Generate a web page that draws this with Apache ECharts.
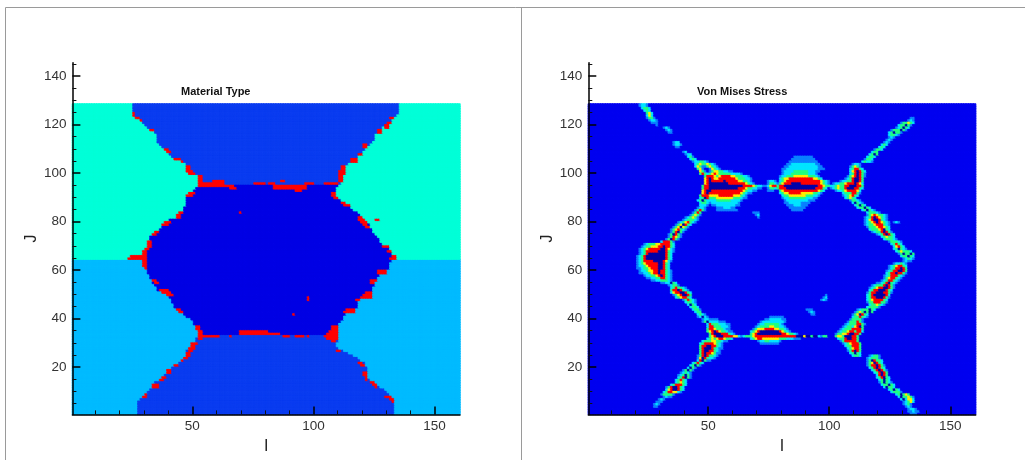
<!DOCTYPE html>
<html><head><meta charset="utf-8">
<style>html,body{margin:0;padding:0;background:#fff}#c{width:1025px;height:460px;filter:blur(0.7px)}</style>
<script src="https://cdn.jsdelivr.net/npm/echarts@6/dist/echarts.min.js"></script>
</head><body><div id="c"></div>
<script>
const iCount = 160, jCount = 128, jAxisTop = 145;
const xMajorTicks = [50, 100, 150];
const xMinorTicks = [10, 20, 30, 40, 60, 70, 80, 90, 110, 120, 130, 140];
const yMajorTicks = [20, 40, 60, 80, 100, 120, 140];
const yMinorTicks = [5, 10, 15, 25, 30, 35, 45, 50, 55, 65, 70, 75, 85, 90, 95, 105, 110, 115, 125, 130, 135, 145];

// Material map: first and last I of the central body for J = 1..128
const bodyFirstI = [
 28,28,28,28,28,28,29,31,31,32, 33,34,35,35,37,38,39,40,41,42,
 43,45,46,47,48,48,48,49,50,51, 52,52,53,53,53,52,52,51,51,50,
 48,47,45,44,43,43,42,42,41,40, 38,36,36,35,34,34,33,33,32,32,
 31,30,30,30,30,30,30,30,31,32, 32,32,33,33,34,35,37,38,39,40,
 41,44,44,45,47,47,48,48,48,48, 49,50,51,52,53,53,53,53,53,52,
 50,49,48,48,46,43,42,41,41,39, 38,37,36,36,36,36,35,34,32,31,
 30,29,28,27,26,26,26,26];
const bodyLastI = [
 133,133,133,133,133,133,133,132,131,130, 129,127,125,124,123,122,122,122,122,122,
 121,121,119,118,116,114,112,110,109,109, 110,110,110,110,110,110,110,110,111,112,
 112,113,115,117,118,118,118,119,122,124, 124,124,124,125,125,126,126,127,130,130,
 131,131,131,132,134,134,132,132,131,130, 128,127,127,126,125,124,124,123,123,122,
 121,120,119,118,116,115,115,113,111,110, 109,109,109,109,110,111,112,112,112,112,
 113,113,113,114,117,118,118,120,120,121, 122,123,124,125,125,125,127,128,128,131,
 132,132,133,134,135,135,135,135];
const sideSplitJ = 64, lowerBodyTopJ = 33, upperBodyBottomJ = 96;
// Interface cells [J, firstI, lastI]
const interfaceRuns = [
 [125,26,26],[124,26,26],[123,27,28],[122,29,29],[118,33,34],[110,39,40],[109,40,41],[106,43,45],[105,46,46],
 [103,48,49],[102,48,49],[101,48,50],[100,49,51],[99,53,54],[98,53,54],[97,53,54],[96,53,63],[95,53,67],[97,59,63],[94,66,68],
 [92,49,51],[91,48,50],[84,45,46],[83,44,45],[82,44,45],[80,39,41],[79,38,40],[76,35,36],[75,34,35],
 [72,32,33],[71,32,33],[70,32,33],[69,31,32],[68,30,31],[67,30,31],[66,25,31],[65,24,31],[64,30,31],[63,30,31],[62,30,31],[61,31,31],
 [56,34,35],[55,35,36],[52,37,40],[51,38,41],[50,40,42],[44,44,45],[43,45,46],
 [37,52,53],[36,52,53],[35,53,54],[34,53,54],[33,53,61],[32,53,54],[30,50,52],[29,50,51],[28,49,51],[27,49,50],[26,48,49],[25,48,49],[24,47,48],[23,46,46],
 [21,43,44],[19,40,41],[18,40,41],[16,38,39],[15,37,38],[13,34,36],[12,34,36],[9,31,31],[8,30,31],
 [35,70,81],[34,70,86],[33,66,66],[33,88,90],[33,93,96],[33,98,98],[49,98,98],[48,98,98],[42,92,92],
 [37,108,110],[36,108,110],[35,107,110],[34,106,110],[33,105,110],[32,106,110],[31,108,109],
 [27,110,111],[22,119,120],[21,120,121],[18,121,122],[17,121,122],[16,122,122],[15,122,122],[14,124,125],[13,125,126],[12,126,126],
 [8,130,132],[7,132,133],[6,133,133],[44,114,117],[43,113,117],[48,118,119],[51,122,124],[50,121,124],[49,120,124],
 [56,124,126],[55,124,125],[60,127,130],[59,127,130],[66,133,134],[65,132,134],[68,131,132],[70,129,131],
 [81,126,127],[84,70,70],[87,113,115],[88,112,113],[92,108,109],[91,108,109],[90,109,110],
 [82,119,120],[81,119,121],[80,120,122],[79,121,122],[78,122,123],
 [97,111,112],[98,111,112],[99,111,112],[100,111,113],[101,111,113],[102,112,113],[103,112,113],[96,109,110],[96,105,108],
 [106,116,118],[105,116,118],[108,119,120],[111,121,122],[112,121,122],[118,127,128],[117,127,128],[120,130,131],[119,130,131],[121,131,132],[123,132,133],
 [96,76,80],[96,82,84],[95,84,97],[94,84,97],[97,87,88],[93,93,95],[96,97,100]
];

// Stress levels by row [J, firstI, "levels"]
const stressUpperLeftArm = [
 [128,22,"1221"],[127,23,"2332"],[126,24,"232"],[125,25,"342"],[124,25,"242"],[123,25,"1331"],[122,26,"1221"],[121,27,"111"],[120,29,"1"],
 [119,32,"121"],[118,33,"121"],[117,34,"11"],[113,36,"122"],[112,36,"1221"],[111,37,"11"],[109,40,"12"],[108,41,"122"],[107,42,"231"],[106,43,"232"]
];
const stressUpperLeftNode = [
 [105,44,"1223321"],[104,45,"234334321"],[103,45,"2431134321"],[102,46,"3410014321"],[101,47,"43101344332211"],
 [100,47,"353234543333322221"],[99,49,"3555434555544333221"],[98,49,"45654455555554333221"],[97,49,"45655555655555443321"],
 [96,49,"456666666655555554321"],[95,48,"355666666666666665555432211"],[94,48,"3556666666666665554332211"],
 [93,48,"45665555555555555432211"],[92,48,"456555555555555543211"],[91,47,"35554444555555444321"],[90,47,"23653334444444333211"],
 [89,46,"2363222233333322221"],[88,47,"23321222222222221"],[87,47,"22210112222222211"],[86,46,"1221000011122211"],[85,54,"111111111"],
 [84,69,"111"],[83,70,"12"],[82,71,"1"]
];
const stressLeftArmMiddle = [
 [85,45,"13531"],[84,44,"1353"],[83,43,"13431"],[82,41,"123431"],[81,40,"1233321"],[80,38,"12345321"],[79,37,"1346532"],[78,36,"1346431"],
 [77,35,"1345321"],[76,35,"135631"],[75,34,"136531"],[74,34,"135431"],[73,33,"136531"],[72,31,"255531"],[71,24,"1233344555532"]
];
const stressLeftTriangle = [
 [70,23,"12334445565532"],[69,22,"123455555665421"],[68,22,"123555556665321"],[67,22,"12356666666532"],[66,21,"123566666666532"],
 [65,21,"123566666666532"],[64,21,"123555566665421"],[63,21,"12345555566532"],[62,21,"12234555566532"],[61,21,"11233455566532"],
 [60,22,"12234455655321"],[59,22,"11223455655321"],[58,24,"122334565321"],[57,25,"11223355321"],[56,27,"112233321"],[55,31,"1122632"],[54,34,"12331"]
];
const stressLeftLower = [
 [53,35,"2353321"],[52,35,"35565321"],[51,35,"245566532"],[50,36,"13456653"],[49,37,"2345532"],[48,40,"135321"],[47,41,"23321"],[46,42,"2632"],
 [45,43,"2332"],[44,44,"2331"],[43,45,"233"],[42,46,"2321"],[41,46,"12621"],[40,48,"1221111"],[39,48,"1362222111"]
];
const stressLowerLeftNode = [
 [38,50,"2533322211"],[37,50,"2553332221"],[36,50,"3554333211"],[35,50,"34565433211"],[34,51,"35666555321"],[33,51,"3456665555442"],
 [32,50,"23434554332"],[31,48,"23334433211"],[30,47,"2355554321"],[29,47,"3556655321"],[28,47,"3566653211"],[27,47,"356655321"],
 [26,47,"356554311"],[25,46,"135653321"],[24,46,"14653221"],[23,46,"256311"],[22,44,"23532"],[21,43,"23631"],[20,42,"2631"],[19,40,"13631"],
 [18,39,"12321"],[17,38,"123631"],[16,38,"235631"],[15,37,"23532"],[14,37,"23432"],[13,35,"2355532"],[12,33,"13566532"],[11,33,"24566532"],
 [10,32,"23554421"],[9,31,"133331"],[8,32,"1211"],[7,30,"121"],[6,29,"111"],[5,28,"121"],[4,28,"11"]
];
const stressTopCentre = [
 [97,75,"1221"],[96,75,"1332"],[95,75,"24553"],[94,75,"1332"],[93,75,"111"],
 [107,86,"11111111"],[106,85,"1111111111"],[105,84,"111111111111"],[104,83,"11222222222211"],[103,82,"1122222222222211"],
 [102,81,"112222222222222111"],[101,81,"1222233333322211"],[100,81,"122233333332221"],[99,80,"12233344444433321"],
 [98,80,"234455555555554432"],[97,80,"234555555555555554321"],[96,79,"1345556666555555554321"],[95,79,"3556666666666666655432"],
 [94,79,"355566666666666655532"],[93,80,"3455555555555555432"],[92,80,"234455555444443321"],[91,81,"2334444444333221"],
 [90,81,"122333333322211"],[89,82,"1222222222111"],[88,82,"11222221111"],[87,83,"111222111"],[86,84,"1111111"],[85,85,"11111"]
];
const stressRightNode = [
 [104,110,"1221"],[103,109,"13431"],[102,109,"235532"],[101,109,"2456532"],[100,109,"2356531"],[99,108,"13456531"],[98,107,"12356653"],
 [97,105,"1223356653"],[96,102,"1223345556542"],[95,100,"322343355666553"],[94,101,"12343356665532"],[93,103,"12234555542"],
 [92,106,"23335531"],[91,106,"1234532"],[90,107,"23432"],[89,109,"13321"],[88,110,"26321"],[87,111,"23632"],[86,112,"233632"],[85,114,"236321"]
];
const stressRightUpperArm = [
 [123,134,"11"],[122,133,"121"],[121,130,"133432"],[120,129,"233631"],[119,128,"123632"],[118,126,"1333631"],[117,125,"236331"],[116,125,"23321"],
 [115,125,"121"],[114,124,"121"],[113,123,"121"],[112,122,"232"],[111,121,"232"],[110,119,"1332"],[109,118,"233"],[108,117,"2363"],[107,116,"2332"],[106,115,"1332"],[105,114,"23221"]
];
const stressRightMiddle = [
 [84,116,"233321"],[83,116,"134543321"],[82,115,"1235654321"],[81,115,"1245665321"],[80,115,"12345654321"],[80,127,"121"],[79,115,"12334555321"],
 [78,116,"1333455432"],[77,117,"233345632"],[76,118,"123356531"],[75,120,"12356532"],[74,122,"234332"],[73,123,"233321"],[72,125,"133321"],
 [71,126,"23532"],[70,127,"24532"],[69,127,"236321"],[68,128,"2343332"],[67,129,"1363363"],[66,130,"233632"],[65,131,"12321"],[64,131,"1211"],
 [63,127,"122321"],[62,125,"12345532"],[61,125,"12355653"],[60,124,"123556653"],[59,124,"235565531"],[58,123,"123555321"],[57,123,"13455321"],
 [56,122,"12355321"],[55,120,"112356321"],[54,118,"1233356531"],[53,117,"12345566531"],[52,117,"2355666532"],[51,116,"13556665531"],
 [50,116,"2356666652"],[49,116,"2355666531"],[48,116,"234555532"],[47,116,"133555331"],[46,117,"2334321"],[45,116,"233331"]
];
const stressRightLowerNode = [
 [44,112,"12333632"],[43,111,"13436363"],[42,110,"1346532"],[41,110,"2335321"],[40,109,"133331"],[39,108,"1333531"],[38,107,"123335531"],
 [37,106,"123324563"],[36,105,"1233355553"],[35,104,"12334553552"],[34,103,"13344566553"],[33,103,"3443666553"],[32,104,"233566553"],
 [31,105,"13555553"],[30,106,"12345553"],[29,107,"2335553"],[28,108,"234553"],[27,108,"135653"],[26,109,"23632"],[25,110,"2332"]
];
const stressRightLowerArm = [
 [25,117,"12331"],[24,116,"123331"],[23,116,"1365332"],[22,116,"1346532"],[21,116,"13556531"],[20,117,"2356532"],[19,118,"2356531"],[18,119,"235653"],
 [17,120,"25653"],[16,120,"235632"],[15,121,"23632"],[14,121,"136321"],[13,122,"233632"],[12,123,"26332"],[11,125,"23632"],[10,126,"23331"],
 [9,128,"236343"],[8,129,"2633431"],[7,130,"262442"],[6,131,"12342"],[5,131,"1231"],[4,132,"121"],[3,133,"1221"],[2,133,"11211"],[1,134,"111"]
];
const stressBottomCentre = [
 [41,76,"111111"],[40,74,"112222211"],[39,72,"12222222221"],[38,71,"12233333321"],[37,70,"1233334433221"],[36,69,"134445555443321"],
 [35,68,"23456666666654321"],[34,68,"34566666666665543321"],[33,64,"123334555555555555555556664663662133"],[32,68,"234554444444333222111"],
 [31,71,"1223322221"],[30,72,"11111111"],[50,99,"1"],[49,98,"12"],[48,97,"121"],[44,91,"111"],[43,92,"121"],[42,93,"11"]
];
const stressRegions = [stressUpperLeftArm, stressUpperLeftNode, stressLeftArmMiddle, stressLeftTriangle, stressLeftLower, stressLowerLeftNode,
 stressTopCentre, stressRightNode, stressRightUpperArm, stressRightMiddle, stressRightLowerNode, stressRightLowerArm, stressBottomCentre];

const iCats = Array.from({length: iCount}, (_, k) => String(k + 1));
const jCats = Array.from({length: jAxisTop}, (_, k) => String(k + 1));

const materialColors = ['#00bbff', '#00ffd8', '#0a3cf0', '#0000e4', '#ff0000'];
const stressColors = ['#0000f0', '#0a80ff', '#00e4ff', '#20ff80', '#ffee00', '#ff0000', '#0000a8'];
const cell = (i, j, v, colors) => ({value: [i - 1, j - 1, v], itemStyle: {color: colors[v], borderColor: colors[v], borderWidth: 0.8}});

const materialData = [];
const redSet = new Set();
interfaceRuns.forEach(([j, a, b]) => { for (let i = a; i <= b; i++) redSet.add(j * 1000 + i); });
for (let j = 1; j <= jCount; j++) {
  for (let i = 1; i <= iCount; i++) {
    let m;
    if (redSet.has(j * 1000 + i)) m = 4;
    else if (i < bodyFirstI[j - 1] || i > bodyLastI[j - 1]) m = j <= sideSplitJ ? 0 : 1;
    else if (j <= lowerBodyTopJ || j >= upperBodyBottomJ) m = 2;
    else m = 3;
    materialData.push(cell(i, j, m, materialColors));
  }
}
const stressMap = new Map();
stressRegions.forEach(region => region.forEach(([j, start, levels]) => {
  for (let k = 0; k < levels.length; k++) {
    const key = j * 1000 + start + k, v = +levels[k];
    stressMap.set(key, Math.max(stressMap.get(key) || 0, v));
  }
}));
const stressData = [];
for (let j = 1; j <= jCount; j++) for (let i = 1; i <= iCount; i++) stressData.push(cell(i, j, stressMap.get(j * 1000 + i) || 0, stressColors));

const inList = list => (idx, val) => list.includes(+val);
const font = 'Liberation Sans, Arial, sans-serif';

function axes(kind, gridIndex) {
  const isX = kind === 'x';
  const cats = isX ? iCats : jCats;
  const major = {
    type: 'category', gridIndex, data: cats, position: isX ? 'bottom' : 'left', z: 10,
    boundaryGap: true, name: isX ? 'I' : 'J', nameLocation: 'middle', nameGap: isX ? 18 : 29,
    nameTextStyle: {color: '#222', fontFamily: font, fontSize: 16},
    axisLine: {show: true, lineStyle: {color: '#000', width: 1.5}},
    axisTick: {show: true, inside: true, length: 8, alignWithLabel: true, interval: inList(isX ? xMajorTicks : yMajorTicks), lineStyle: {color: '#000', width: 1.5}},
    axisLabel: {show: true, interval: inList(isX ? xMajorTicks : yMajorTicks), color: '#333', fontFamily: font, fontSize: 13.5, margin: isX ? 5 : 6},
    splitLine: {show: false}, splitArea: {show: false}
  };
  const minor = {
    type: 'category', gridIndex, data: cats, position: isX ? 'bottom' : 'left', z: 10,
    boundaryGap: true, axisLine: {show: false},
    axisTick: {show: true, inside: true, length: 4, alignWithLabel: true, interval: inList(isX ? xMinorTicks : yMinorTicks), lineStyle: {color: '#111', width: 1}},
    axisLabel: {show: false}, splitLine: {show: false}, splitArea: {show: false}
  };
  return [major, minor];
}
const line = (x1, y1, x2, y2) => ({type: 'line', silent: true, shape: {x1, y1, x2, y2}, style: {stroke: '#9a9a9a', lineWidth: 1}});
const chart = echarts.init(document.getElementById('c'), null, {renderer: 'canvas'});
chart.setOption({
  animation: false,
  backgroundColor: '#fff',
  title: [
    {text: 'Material Type', left: 181, top: 86, padding: 0, textStyle: {fontFamily: font, fontSize: 11, fontWeight: 'bold', color: '#111'}},
    {text: 'Von Mises Stress', left: 697, top: 86, padding: 0, textStyle: {fontFamily: font, fontSize: 11, fontWeight: 'bold', color: '#111'}}
  ],
  graphic: [line(5.5, 7.5, 1025, 7.5), line(5.5, 7.5, 5.5, 460), line(521.5, 7.5, 521.5, 460)],
  grid: [
    {left: 72.4, top: 62.7, width: 387.6, height: 351.7, containLabel: false},
    {left: 588.3, top: 62.7, width: 387.4, height: 351.7, containLabel: false}
  ],
  xAxis: [...axes('x', 0), ...axes('x', 1)],
  yAxis: [...axes('y', 0), ...axes('y', 1)],
  series: [
    {type: 'heatmap', xAxisIndex: 0, yAxisIndex: 0, data: materialData, progressive: 0, silent: true, emphasis: {disabled: true}},
    {type: 'heatmap', xAxisIndex: 2, yAxisIndex: 2, data: stressData, progressive: 0, silent: true, emphasis: {disabled: true}}
  ]
});
</script></body></html>
